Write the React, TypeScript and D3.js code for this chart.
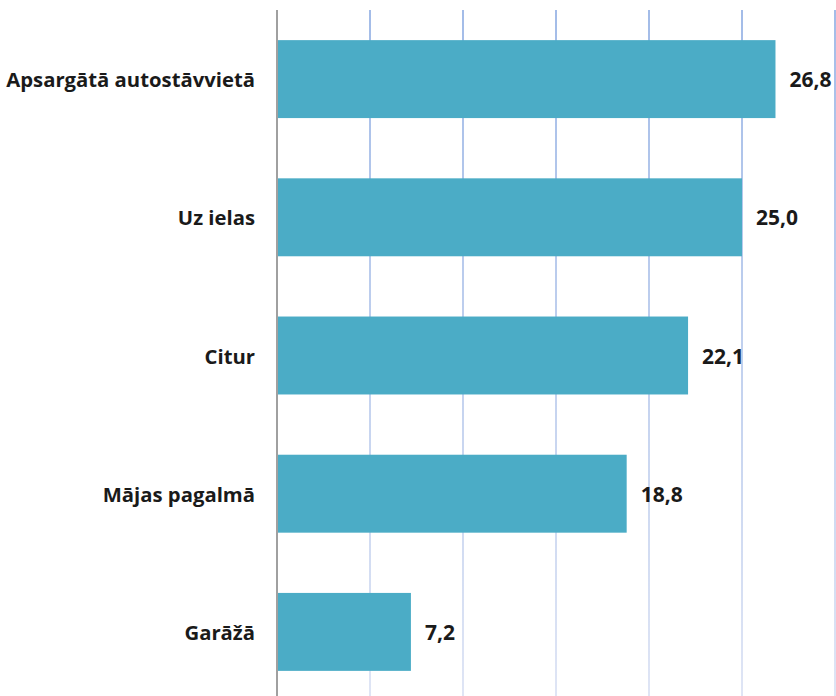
import React from "react";
import * as d3 from "d3";

const categories = ["Apsargātā autostāvvietā", "Uz ielas", "Citur", "Mājas pagalmā", "Garāžā"];
const values = [26.8, 25.0, 22.1, 18.8, 7.2];
const ticks = [0, 5, 10, 15, 20, 25, 30];

const W = 836;
const H = 696;

export default function App() {
  const x = d3.scaleLinear().domain([0, 30]).range([277, 835]);
  const y = d3
    .scaleBand<string>()
    .domain(categories)
    .range([10, 701])
    .paddingInner(0.436)
    .paddingOuter(0.218);
  const fmt = (v: number) => v.toFixed(1).replace(".", ",");
  const font = "'Open Sans', Lato, sans-serif";
  return (
    <svg
      width={W}
      height={H}
      style={{ position: "absolute", left: 0, top: 0, background: "#fff" }}
    >
      <defs>
        <linearGradient id="gridGrad" x1="0" y1="10" x2="0" y2="696" gradientUnits="userSpaceOnUse">
          <stop offset="0" stopColor="#a3bce8" />
          <stop offset="1" stopColor="#dfe5f5" />
        </linearGradient>
      </defs>
      {ticks.slice(1).map((t) => (
        <line key={t} x1={x(t)} x2={x(t)} y1={10} y2={H} stroke="url(#gridGrad)" strokeWidth={2} />
      ))}
      {categories.map((c, i) => (
        <rect
          key={c}
          x={x(0)}
          y={y(c)}
          width={x(values[i]) - x(0)}
          height={y.bandwidth()}
          fill="#4bacc6"
        />
      ))}
      <line x1={x(0)} x2={x(0)} y1={10} y2={H} stroke="#a0a0a0" strokeWidth={2} />
      {categories.map((c) => (
        <text
          key={c}
          x={255}
          y={(y(c) as number) + y.bandwidth() / 2}
          textAnchor="end"
          dominantBaseline="central"
          fontFamily={font}
          fontWeight={700}
          fontSize={20.3}
          fill="#1a1a1a"
        >
          {c}
        </text>
      ))}
      {categories.map((c, i) => (
        <text
          key={c}
          x={x(values[i]) + 14}
          y={(y(c) as number) + y.bandwidth() / 2}
          dominantBaseline="central"
          fontFamily={font}
          fontWeight={700}
          fontSize={21}
          fill="#1a1a1a"
        >
          {fmt(values[i])}
        </text>
      ))}
    </svg>
  );
}
